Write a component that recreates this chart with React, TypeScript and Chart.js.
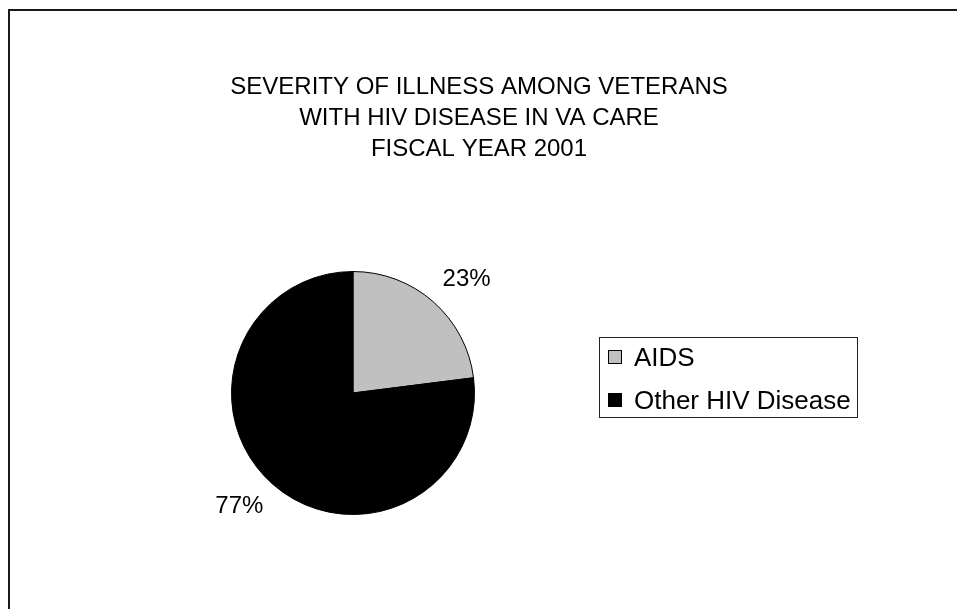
import React, { useEffect, useRef } from "react";
import { Chart, registerables } from "chart.js";

Chart.register(...registerables);

const categories = ["AIDS", "Other HIV Disease"];
const shares = [23, 77];
const sliceColors = ["#C0C0C0", "#000000"];
const titleLines = [
  "SEVERITY OF ILLNESS AMONG VETERANS",
  "WITH HIV DISEASE IN VA CARE",
  "FISCAL YEAR 2001",
];

const FONT = "'Liberation Sans', Arial, Helvetica, sans-serif";
const W = 957;
const H = 609;

// Frame, title, percentage labels and boxed legend drawn around the pie
const decorations = {
  id: "decorations",
  afterDraw(chart: any) {
    const ctx = chart.ctx as CanvasRenderingContext2D;
    ctx.save();

    // outer frame (only its top and left edges fall inside the canvas)
    ctx.strokeStyle = "#1a1a1a";
    ctx.lineWidth = 2;
    ctx.strokeRect(9, 10, W + 40, H + 40);

    // title
    ctx.fillStyle = "#000";
    ctx.font = `24px ${FONT}`;
    ctx.textAlign = "center";
    ctx.textBaseline = "alphabetic";
    titleLines.forEach((line, i) => ctx.fillText(line, 479, 94 + i * 31));

    // percentage labels outside each slice
    const meta = chart.getDatasetMeta(0);
    const total = shares.reduce((a, b) => a + b, 0);
    ctx.font = `24px ${FONT}`;
    ctx.textBaseline = "middle";
    meta.data.forEach((arc: any, i: number) => {
      const mid = (arc.startAngle + arc.endAngle) / 2;
      const dx = Math.cos(mid);
      const dy = Math.sin(mid);
      const d = arc.outerRadius + 14;
      const text = `${Math.round((shares[i] / total) * 100)}%`;
      const w = ctx.measureText(text).width;
      const cx = arc.x + dx * d + Math.sign(dx) * (w / 2);
      const cy = arc.y + dy * d + Math.sign(dy) * 12;
      ctx.fillText(text, cx, cy);
    });

    // legend box
    const lx = 599.5;
    const ly = 337.5;
    const lw = 258;
    const lh = 80;
    ctx.strokeStyle = "#222";
    ctx.lineWidth = 1;
    ctx.strokeRect(lx, ly, lw, lh);
    ctx.font = `26px ${FONT}`;
    ctx.textAlign = "left";
    ctx.textBaseline = "alphabetic";
    categories.forEach((name, i) => {
      const rowBase = 366 + i * 43;
      ctx.fillStyle = sliceColors[i];
      ctx.fillRect(608, rowBase - 16, 14, 14);
      ctx.strokeStyle = "#000";
      ctx.strokeRect(608.5, rowBase - 15.5, 13, 13);
      ctx.fillStyle = "#000";
      ctx.fillText(name, 634, rowBase);
    });

    ctx.restore();
  },
};

export default function App() {
  const canvasRef = useRef<HTMLCanvasElement | null>(null);

  useEffect(() => {
    const prevMargin = document.body.style.margin;
    document.body.style.margin = "0";
    const canvas = canvasRef.current;
    if (!canvas) return;
    const chart = new Chart(canvas, {
      type: "pie",
      data: {
        labels: categories,
        datasets: [
          {
            data: shares,
            backgroundColor: sliceColors,
            borderColor: "#000",
            borderWidth: 1,
          },
        ],
      },
      options: {
        animation: false,
        responsive: false,
        devicePixelRatio: 1,
        layout: { padding: { left: 231, right: 482, top: 271, bottom: 94 } },
        plugins: {
          legend: { display: false },
          title: { display: false },
          tooltip: { enabled: false },
        },
      },
      plugins: [decorations],
    });
    return () => {
      chart.destroy();
      document.body.style.margin = prevMargin;
    };
  }, []);

  return (
    <div style={{ position: "fixed", left: 0, top: 0, width: W, height: H, background: "#fff" }}>
      <canvas ref={canvasRef} width={W} height={H} style={{ width: W, height: H }} />
    </div>
  );
}
